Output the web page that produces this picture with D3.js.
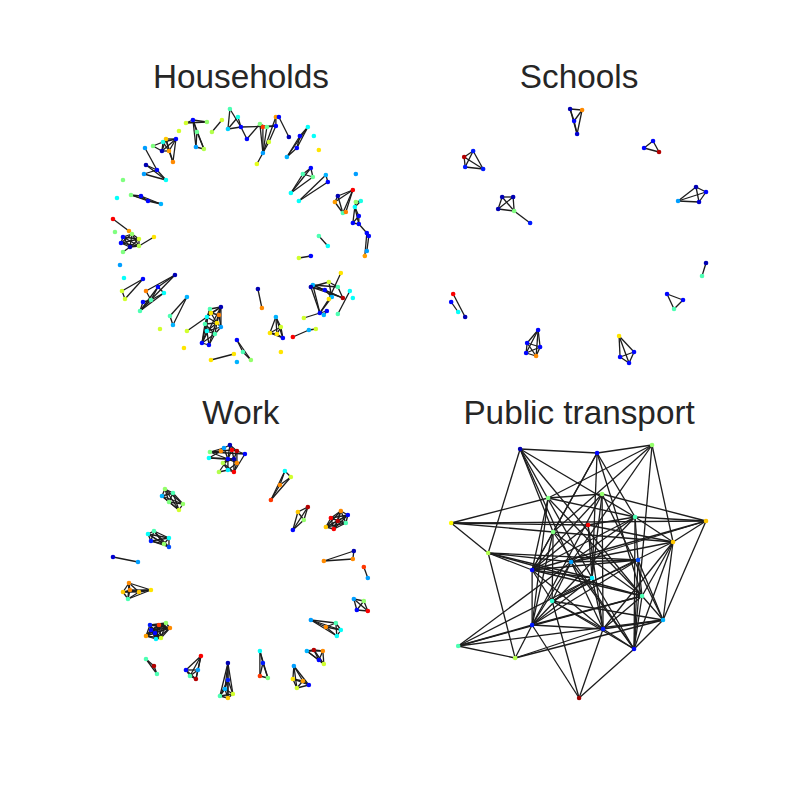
<!DOCTYPE html>
<html>
<head>
<meta charset="utf-8">
<script src="https://cdn.jsdelivr.net/npm/d3@7"></script>
<style>
  body { margin: 0; background: #fff; }
</style>
</head>
<body>
<script>
// node = [x, y, age value 0..1] in layout units of one panel (0..282 x 0..280)
// k = how many leading nodes are fully linked, l = extra links (local indices)
const householdGroups = [
  { n: [[130,13,.45],[138,21,.40],[128,33,.33],[141,31,.13],[147,43,.13],[160,28,.50],[163,31,.82],[167,31,.48],[176,21,.72],[179,21,.13],[176,30,.13],[169,46,.58],[163,57,.28],[157,68,.60],[189,41,.05]],
    l: [[0,2],[0,3],[1,2],[1,3],[2,3],[3,4],[3,10],[4,5],[5,6],[5,7],[5,12],[6,12],[7,12],[6,10],[8,9],[8,12],[9,14],[10,11],[11,12],[12,13],[6,7],[8,10]] },
  { n: [[93,24,.13],[86,27,.58],[107,26,.52],[97,36,.48],[96,51,.28],[104,53,.55]], l: [[1,2],[0,1],[0,2],[0,3],[0,4],[3,4],[3,5],[4,5],[0,5]] },
  { n: [[122,24,.58],[112,36,.55]] },
  { n: [[79,35,.58]] },
  { n: [[66,43,.68],[76,43,.13],[63,46,.40],[53,50,.50],[62,55,.05],[69,55,.72],[73,66,.74]],
    l: [[0,1],[0,2],[0,4],[0,5],[1,2],[1,4],[1,5],[2,3],[2,4],[3,4],[4,5],[5,6],[0,6],[1,6],[2,5]] },
  { n: [[45,52,.28],[46,69,.05],[44,78,.28],[57,74,.13],[66,84,.38]], l: [[0,3],[1,3],[3,4],[1,4],[2,4],[2,3]] },
  { n: [[23,84,.50]] },
  { n: [[17,102,.38]] },
  { n: [[31,99,.50],[41,100,.13],[48,105,.13],[61,108,.30]] },
  { n: [[13,123,.88],[29,135,.72]] },
  { n: [[15,136,.50]] },
  { n: [[23,141,.13],[21,147,.13],[30,151,.05],[39,143,.58],[39,150,.55],[32,138,.52],[23,156,.50],[54,141,.65]], k: 6, l: [[4,7],[2,6]] },
  { n: [[20,169,.28]] },
  { n: [[24,182,.38]] },
  { n: [[43,183,.13],[22,195,.58],[25,203,.58]] },
  { n: [[75,179,.05],[58,191,.13],[46,195,.75],[64,197,.38],[43,206,.13],[51,204,.45],[40,215,.45]],
    l: [[0,2],[0,6],[0,1],[1,6],[3,6],[2,5],[4,5],[1,3],[1,5],[5,6],[4,6],[3,5]] },
  { n: [[87,201,.30],[70,220,.45],[73,229,.30]] },
  { n: [[60,233,.58]] },
  { n: [[110,213,.45],[121,211,.05],[111,217,.65],[119,219,.75],[107,221,.38],[105,228,.45],[117,227,.65],[121,231,.28],[107,235,.38],[115,238,.45],[102,247,.13],[109,249,.13],[87,235,.58]],
    l: [[0,1],[0,2],[1,2],[1,3],[2,3],[0,4],[1,4],[4,5],[5,6],[3,6],[6,7],[4,6],[5,8],[6,8],[7,8],[8,9],[7,9],[5,10],[8,10],[9,10],[10,11],[9,11],[8,11],[1,10],[1,11],[2,6],[3,7],[4,8],[5,9],[0,10],[12,4],[6,9],[1,7]] },
  { n: [[84,252,.65]] },
  { n: [[111,264,.65],[134,258,.65]] },
  { n: [[137,244,.13],[143,256,.45],[151,264,.52]] },
  { n: [[137,266,.30]] },
  { n: [[208,31,.38],[200,40,.13],[197,52,.13],[187,61,.30]] },
  { n: [[214,40,.38]] },
  { n: [[219,54,.65]] },
  { n: [[211,72,.13],[203,78,.45],[213,81,.48],[191,97,.38]] },
  { n: [[226,79,.30],[228,86,.13],[199,105,.38]] },
  { n: [[256,78,.28]] },
  { n: [[253,94,.88],[238,100,.05],[235,106,.72],[243,117,.45],[246,116,.75],[256,106,.52],[261,105,.40],[255,111,.38],[259,120,.13],[253,127,.13],[259,128,.13],[267,137,.13],[269,140,.13],[267,155,.28],[265,160,.72]],
    l: [[0,1],[0,2],[0,3],[1,3],[2,3],[1,2],[0,4],[3,4],[5,7],[6,7],[7,8],[7,9],[8,9],[8,10],[9,10],[5,6],[7,10],[10,11],[11,12],[11,14],[12,13]] },
  { n: [[219,140,.45],[228,150,.38]] },
  { n: [[199,162,.58],[211,160,.13]] },
  { n: [[158,193,.05],[162,212,.74]] },
  { n: [[213,189,.30],[211,191,.05],[229,186,.58],[241,177,.65],[238,191,.45],[225,194,.13],[243,202,.95],[232,201,.30],[229,203,.65],[220,217,.13],[227,215,.13],[224,219,.30],[204,222,.58]],
    l: [[0,6],[1,6],[0,5],[1,5],[5,6],[0,4],[2,4],[4,6],[1,9],[0,9],[3,8],[2,7],[7,9],[8,9],[9,12],[9,10],[10,11],[5,7],[1,2]] },
  { n: [[250,195,.38],[238,218,.45]] },
  { n: [[253,202,.38]] },
  { n: [[176,221,.30],[181,231,.58],[170,237,.65],[177,238,.65],[183,242,.13]] },
  { n: [[193,241,.88],[209,234,.30],[216,233,.58]], l: [[0,1],[1,2]] },
  { n: [[181,256,.65]] }
];

const schoolGroups = [
  { n: [[132,13,.05],[144,14,.74],[136,25,.13],[139,38,.08]] },
  { n: [[215,45,.13],[206,52,.13],[221,56,.95]] },
  { n: [[35,55,.15],[26,61,.95],[27,71,.15],[45,73,.15]] },
  { n: [[258,91,.05],[268,96,.13],[261,106,.08],[240,105,.28]] },
  { n: [[64,101,.05],[75,101,.05],[60,113,.05],[76,115,.50],[92,127,.15]], k: 4, l: [[3,4]] },
  { n: [[268,167,.05],[264,180,.45]] },
  { n: [[229,198,.13],[245,204,.13],[236,213,.45]] },
  { n: [[15,198,.88],[13,206,.13],[20,216,.38],[27,221,.05]], l: [[0,3],[1,2]] },
  { n: [[100,234,.13],[89,247,.13],[102,251,.13],[88,257,.13],[98,260,.74]] },
  { n: [[181,240,.65],[196,256,.13],[182,261,.13],[191,267,.13]] }
];

const workGroups = [
  { n: [[110,20,.50],[109,26,.38],[121,19,.74],[124,16,.28],[130,13,.05],[132,18,.88],[137,19,.95],[128,27,.13],[134,27,.05],[137,31,.74],[123,31,.55],[128,38,.36],[134,40,.88],[119,40,.55],[145,22,.13]],
    l: [[0,2],[0,3],[0,7],[1,2],[1,7],[1,8],[0,14],[2,3],[3,4],[4,5],[4,6],[5,6],[3,7],[5,8],[6,8],[7,8],[7,9],[8,9],[6,9],[7,10],[10,11],[10,12],[11,12],[7,11],[8,12],[9,12],[9,11],[13,7],[13,11],[10,8],[5,7],[2,5],[6,14],[4,7],[12,14]] },
  { n: [[65,57,.52],[73,61,.45],[62,64,.30],[69,70,.50],[83,72,.52],[79,78,.58]] },
  { n: [[54,99,.45],[48,102,.38],[51,109,.15],[69,106,.38],[64,112,.52],[69,115,.20]] },
  { n: [[13,125,.08],[38,130,.28]] },
  { n: [[185,39,.38],[191,45,.58],[180,53,.74],[171,68,.82]] },
  { n: [[208,75,.95],[198,80,.68],[204,88,.52],[193,98,.13]] },
  { n: [[241,79,.74],[248,83,.13],[231,86,.88],[238,89,.95],[246,91,.45],[226,95,.68],[234,97,.88]] },
  { n: [[254,119,.05],[253,127,.74],[224,129,.74]] },
  { n: [[264,135,.82],[268,146,.28]] },
  { n: [[29,151,.74],[23,160,.68],[30,158,.74],[39,160,.68],[51,158,.65],[28,167,.45]] },
  { n: [[50,193,.15],[59,193,.82],[66,191,.52],[70,196,.74],[51,198,.13],[55,201,.13],[46,204,.72],[56,207,.36],[61,206,.58]] },
  { n: [[46,227,.45],[54,234,.95],[57,242,.45]] },
  { n: [[101,224,.88],[86,238,.13],[98,238,.28],[90,244,.45],[96,247,.95]] },
  { n: [[128,231,.05],[128,248,.15],[125,257,.30],[120,264,.45],[133,262,.58],[128,266,.68]] },
  { n: [[160,219,.38],[163,231,.15],[160,244,.82],[168,246,.50]] },
  { n: [[194,234,.28],[193,247,.65],[203,249,.72],[209,253,.13],[197,256,.58]] },
  { n: [[207,219,.30],[214,218,.95],[223,219,.74],[219,228,.13],[224,232,.58]] },
  { n: [[211,188,.28],[236,191,.45],[226,195,.74],[241,198,.38],[237,204,.38]] },
  { n: [[254,167,.28],[264,169,.52],[257,178,.13],[268,179,.88]] }
];

const transportNodes = [
  [82,17,.05],[159,21,.13],[214,13,.52],[110,66,.50],[164,62,.52],[13,91,.63],[150,93,.88],
  [115,100,.50],[197,85,.45],[268,89,.68],[235,110,.68],[50,121,.55],[133,130,.28],[200,128,.20],
  [94,138,.13],[154,146,.36],[204,164,.45],[114,169,.42],[225,188,.30],[94,193,.15],[165,197,.15],
  [196,217,.13],[20,214,.45],[77,226,.55],[141,266,.97]
];

const transportLinks = [
  [0,1],[0,11],[0,7],[0,12],[0,15],[0,16],[0,8],
  [1,2],[1,7],[1,15],[1,8],[1,16],[1,14],
  [2,3],[2,7],[2,10],[2,21],[2,12],
  [3,5],[3,4],[3,8],[3,14],[3,19],[3,16],
  [4,14],[4,20],[4,15],[4,18],[4,19],[4,9],
  [5,6],[5,9],[5,11],[5,7],
  [6,8],[6,15],[6,20],[6,10],[6,14],
  [7,10],[7,14],[7,17],[7,16],[7,21],[7,19],
  [8,9],[8,10],[8,13],[8,12],[8,14],[8,21],[8,19],
  [9,10],[9,18],[9,12],[9,14],
  [10,18],[10,21],[10,20],[10,17],[10,16],[10,12],
  [11,12],[11,13],[11,15],[11,16],[11,23],[11,14],
  [12,13],[12,19],[12,20],[12,21],[12,22],[12,17],
  [13,16],[13,18],[13,21],[13,19],[13,17],[13,14],
  [14,19],[14,20],[14,17],[14,15],[14,16],
  [15,20],[15,21],[15,17],[15,19],[15,22],
  [16,18],[16,21],[16,20],[16,19],[16,22],
  [17,20],[17,21],[17,24],[17,18],
  [18,20],[18,21],[18,22],[18,23],
  [19,20],[19,22],[19,23],[19,24],
  [20,23],[20,24],[20,21],
  [21,24],
  [22,23]
];

const titles = ["Households", "Schools", "Work", "Public transport"];

// matplotlib-like jet colormap
function jet(v) {
  const c = t => Math.max(0, Math.min(1, t)) * 255;
  return d3.rgb(c(1.5 - Math.abs(4 * v - 3)), c(1.5 - Math.abs(4 * v - 2)), c(1.5 - Math.abs(4 * v - 1)));
}

// flatten groups to nodes + links
function buildGraph(groups) {
  let nodes = [], links = [];
  groups.forEach(g => {
    const base = nodes.length;
    g.n.forEach(p => nodes.push({ x: p[0], y: p[1], c: p[2] }));
    const k = g.k !== undefined ? g.k : (g.l ? 0 : g.n.length);
    for (let i = 0; i < k; i++)
      for (let j = i + 1; j < k; j++) links.push([base + i, base + j]);
    (g.l || []).forEach(e => links.push([base + e[0], base + e[1]]));
  });
  return { nodes, links };
}

const graphs = [
  buildGraph(householdGroups),
  buildGraph(schoolGroups),
  buildGraph(workGroups),
  { nodes: transportNodes.map(p => ({ x: p[0], y: p[1], c: p[2] })), links: transportLinks }
];

const figW = 800, figH = 800;
const padLeft = 0.125 * figW, padRight = 0.9 * figW, padTop = (1 - 0.88) * figH, padBottom = (1 - 0.11) * figH;
const axW = (padRight - padLeft) / 2.2, axH = (padBottom - padTop) / 2.2;

const svg = d3.select("body").append("svg")
  .attr("width", figW)
  .attr("height", figH)
  .style("background-color", "#fff");

graphs.forEach((g, i) => {
  const col = i % 2, row = Math.floor(i / 2);
  const x0 = padLeft + col * axW * 1.2, y0 = padTop + row * axH * 1.2;

  const x = d3.scaleLinear().domain([0, 282]).range([x0, x0 + axW]);
  const y = d3.scaleLinear().domain([0, 280]).range([y0, y0 + axH]);

  const panel = svg.append("g");

  panel.append("text")
    .attr("x", x0 + axW / 2)
    .attr("y", y0 - 8.3)
    .attr("text-anchor", "middle")
    .attr("font-family", "Liberation Sans, Arial, sans-serif")
    .attr("font-size", 33.3)
    .attr("fill", "#262626")
    .text(titles[i]);

  panel.selectAll("line")
    .data(g.links)
    .enter()
      .append("line")
        .attr("x1", d => x(g.nodes[d[0]].x))
        .attr("y1", d => y(g.nodes[d[0]].y))
        .attr("x2", d => x(g.nodes[d[1]].x))
        .attr("y2", d => y(g.nodes[d[1]].y))
        .attr("stroke", "#1c1c1c")
        .attr("stroke-width", 1.3);

  panel.selectAll("circle")
    .data(g.nodes)
    .enter()
      .append("circle")
        .attr("cx", d => x(d.x))
        .attr("cy", d => y(d.y))
        .attr("r", 2.3)
        .attr("fill", d => jet(d.c));
});
</script>
</body>
</html>
